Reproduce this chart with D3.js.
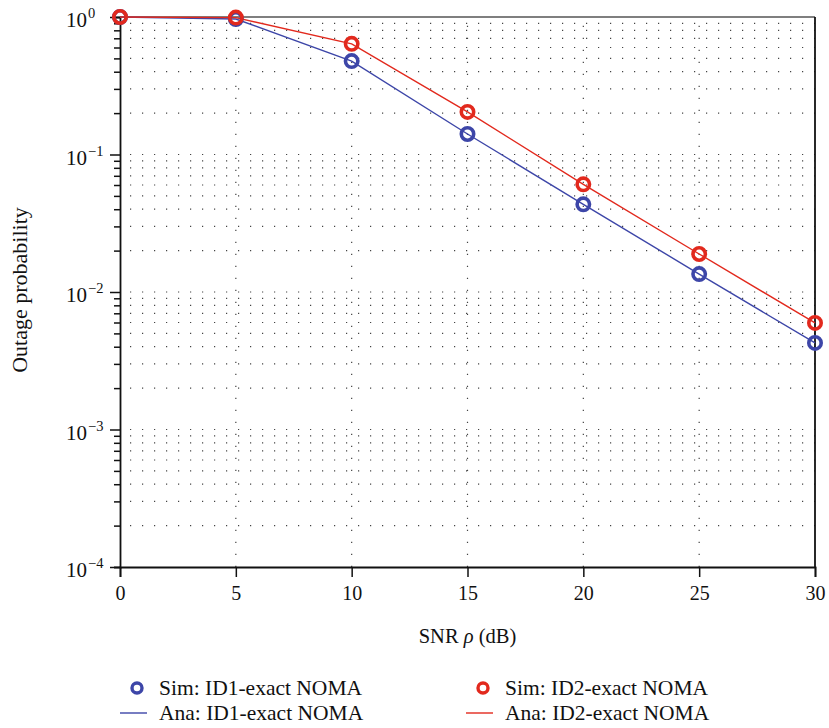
<!DOCTYPE html>
<html>
<head>
<meta charset="utf-8">
<script src="https://cdn.jsdelivr.net/npm/d3@7"></script>
<style>
  html, body { margin: 0; padding: 0; background: #fff; }
  svg { display: block; font-family: "Liberation Serif", "DejaVu Serif", serif; }
</style>
</head>
<body>
<svg id="chart" width="829" height="728"></svg>
<script>
// SNR points (dB)
const snr = [0, 5, 10, 15, 20, 25, 30];
// Outage probability, user ID1 (exact NOMA)
const id1 = [1.0, 0.967, 0.478, 0.141, 0.0434, 0.0135, 0.00426];
// Outage probability, user ID2 (exact NOMA)
const id2 = [1.0, 0.99, 0.638, 0.204, 0.0607, 0.0189, 0.00596];
const xTicks = [0, 5, 10, 15, 20, 25, 30];
const yDecades = [-4, -3, -2, -1, 0];

const blue = "#3d46a8";
const red = "#e2291d";

const svg = d3.select("#chart");
const m = { left: 120, right: 815, top: 17, bottom: 567 };

const x = d3.scaleLinear().domain([0, 30]).range([m.left, m.right]);
const y = d3.scaleLog().domain([1e-4, 1]).range([m.bottom, m.top]);

// dotted grid: every minor log value horizontally, every major x tick vertically
const minorVals = [];
yDecades.slice(0, -1).forEach(d => {
  for (let k = 1; k <= 9; k++) minorVals.push(k * Math.pow(10, d));
});
const grid = svg.append("g");
grid.selectAll("line.h").data(minorVals.filter(v => v > 1e-4)).join("line")
  .attr("x1", m.left + 10).attr("x2", m.right)
  .attr("y1", d => y(d)).attr("y2", d => y(d))
  .attr("stroke", "#444").attr("stroke-width", 1.2)
  .attr("stroke-dasharray", "1.2,10.8");
grid.selectAll("line.v").data(xTicks.slice(1, -1)).join("line")
  .attr("x1", d => x(d)).attr("x2", d => x(d))
  .attr("y1", m.bottom).attr("y2", m.top)
  .attr("stroke", "#444").attr("stroke-width", 1.2)
  .attr("stroke-dasharray", "1.2,10.8");

// frame
svg.append("line").attr("x1", m.left).attr("x2", m.right).attr("y1", m.top).attr("y2", m.top)
  .attr("stroke", "#555").attr("stroke-width", 1.5);
svg.append("line").attr("x1", m.right).attr("x2", m.right).attr("y1", m.top).attr("y2", m.bottom)
  .attr("stroke", "#111").attr("stroke-width", 1.8);

// x axis
const xAxis = svg.append("g").attr("transform", `translate(0,${m.bottom})`)
  .call(d3.axisBottom(x).tickValues(xTicks).tickSize(10).tickPadding(9).tickFormat(d3.format("d")));
xAxis.select(".domain").attr("stroke", "#111").attr("stroke-width", 1.8);
xAxis.selectAll(".tick line").attr("stroke", "#111").attr("stroke-width", 1.5);
xAxis.selectAll(".tick text").attr("font-size", 20).attr("fill", "#111")
  .attr("font-family", "Liberation Serif, serif");

// y axis: minor ticks plus decade labels
const yAxis = svg.append("g").attr("transform", `translate(${m.left},0)`)
  .call(d3.axisLeft(y).tickValues(minorVals.concat([1])).tickSize(6).tickFormat(""));
yAxis.select(".domain").attr("stroke", "#111").attr("stroke-width", 1.8);
yAxis.selectAll(".tick line").attr("stroke", "#111").attr("stroke-width", 1.5);
yAxis.selectAll(".tick").filter(d => Math.abs(Math.log10(d) - Math.round(Math.log10(d))) < 1e-9)
  .select("line").attr("x2", -10);

const yLab = svg.append("g");
yDecades.forEach(d => {
  const t = yLab.append("text")
    .attr("x", 66).attr("y", y(Math.pow(10, d)) + 10)
    .attr("text-anchor", "start").attr("font-size", 21).attr("fill", "#111");
  t.append("tspan").text("10");
  t.append("tspan").attr("dx", 1).attr("dy", -9).attr("font-size", 14.5)
    .text(d === 0 ? "0" : "\u2212" + Math.abs(d));
});

// axis titles
const xt = svg.append("text").attr("x", (m.left + m.right) / 2).attr("y", 643)
  .attr("text-anchor", "middle").attr("font-size", 20.5).attr("fill", "#111");
xt.append("tspan").text("SNR ");
xt.append("tspan").attr("font-style", "italic").text("\u03c1");
xt.append("tspan").text(" (dB)");

svg.append("text").attr("transform", `translate(27,${(m.top + m.bottom) / 2 - 2}) rotate(-90)`)
  .attr("text-anchor", "middle").attr("font-size", 22)
  .attr("fill", "#111")
  .text("Outage probability");

// analytical curves
const line = d3.line().x((d, i) => x(snr[i])).y(d => y(d));
svg.append("path").datum(id1).attr("d", line).attr("fill", "none")
  .attr("stroke", blue).attr("stroke-width", 1.4);
svg.append("path").datum(id2).attr("d", line).attr("fill", "none")
  .attr("stroke", red).attr("stroke-width", 1.4);

// simulation markers
svg.append("g").selectAll("circle").data(id1).join("circle")
  .attr("cx", (d, i) => x(snr[i])).attr("cy", d => y(d)).attr("r", 6.2)
  .attr("fill", "none").attr("stroke", blue).attr("stroke-width", 3.6);
svg.append("g").selectAll("circle").data(id2).join("circle")
  .attr("cx", (d, i) => x(snr[i])).attr("cy", d => y(d)).attr("r", 6.2)
  .attr("fill", "none").attr("stroke", red).attr("stroke-width", 3.6);

// legend
const leg = svg.append("g").attr("font-size", 21.5).attr("fill", "#111");
const entries = [
  { x: 137, col: blue, sim: "Sim: ID1-exact NOMA", ana: "Ana: ID1-exact NOMA" },
  { x: 483, col: red, sim: "Sim: ID2-exact NOMA", ana: "Ana: ID2-exact NOMA" }
];
entries.forEach(e => {
  leg.append("circle").attr("cx", e.x).attr("cy", 688).attr("r", 5)
    .attr("fill", "none").attr("stroke", e.col).attr("stroke-width", 3.4);
  leg.append("text").attr("x", e.x + 22).attr("y", 695).text(e.sim);
  leg.append("line").attr("x1", e.x - 17).attr("x2", e.x + 10).attr("y1", 713).attr("y2", 713)
    .attr("stroke", e.col).attr("stroke-width", 1.4);
  leg.append("text").attr("x", e.x + 22).attr("y", 720).text(e.ana);
});
</script>
</body>
</html>
